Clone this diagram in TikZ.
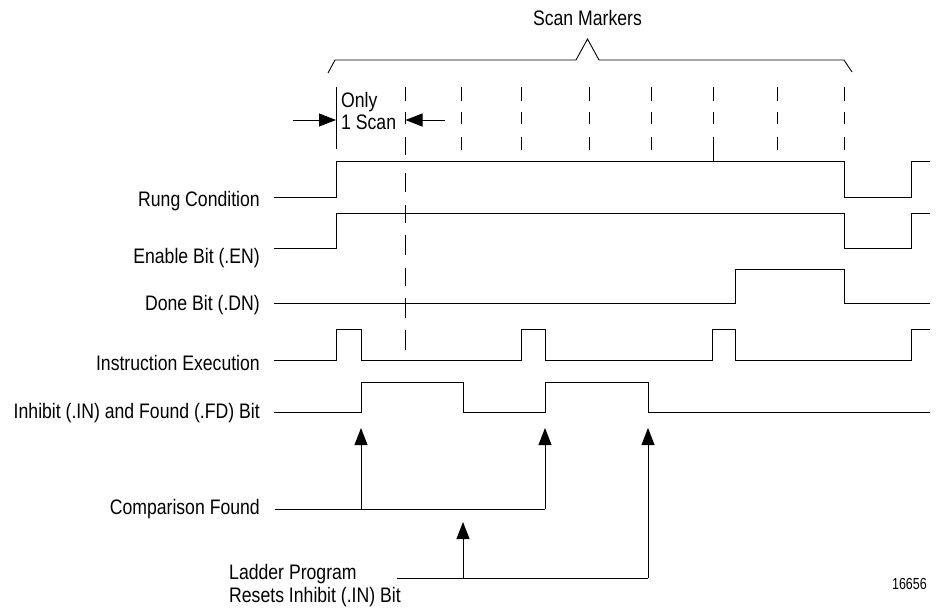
\documentclass[tikz,border=0pt]{standalone}
\usepackage{fontspec}
\setmainfont{Liberation Sans}[FakeStretch=0.84]
\newfontfamily\numfont{Liberation Sans}[FakeStretch=0.78]
\usetikzlibrary{arrows.meta}
\begin{document}
\begin{tikzpicture}[x=1pt,y=-1pt,
  sig/.style={line width=0.9pt,line join=miter},
  lbl/.style={font=\fontsize{21}{23}\selectfont, inner sep=0pt},
  arr/.style={line width=0.9pt,-{Triangle[length=17pt,width=13pt]}},
  mk/.style={line width=0.9pt}]
\useasboundingbox (0,0) rectangle (939,611);

% title and brace
\node[lbl,anchor=base] (title) at (587.5,25) {Scan Markers};
\draw[sig] (328,73) -- (335,60) -- (576,60) -- (587.5,39) -- (599,60) -- (844,60) -- (852,72);

% scan markers
\draw[mk] (336,87) -- (336,149);
\foreach \x in {405.5,461,521,589,651,713,777,844}{
  \draw[mk] (\x,87) -- (\x,101) (\x,112) -- (\x,124) (\x,137) -- (\x,150);
}
\draw[mk] (713,150) -- (713,161);
\draw[mk] (405.5,150) -- (405.5,155)
  (405.5,173) -- (405.5,192) (405.5,205) -- (405.5,223)
  (405.5,235) -- (405.5,255) (405.5,268) -- (405.5,286)
  (405.5,298) -- (405.5,318) (405.5,330) -- (405.5,350);

% only 1 scan
\node[lbl,anchor=base west] (only) at (341,107) {Only};
\node[lbl,anchor=base west] (onescan) at (341,129) {1 Scan};
\coordinate (la) at (293,120);
\coordinate (lt) at (336,120);
\coordinate (ra) at (445,120);
\coordinate (rt) at (405.5,120);
\draw[arr] (la) -- (lt);
\draw[arr] (ra) -- (rt);

% signal labels
\node[lbl,anchor=base east] (rung) at (260,206) {Rung Condition};
\node[lbl,anchor=base east] (en) at (260,263) {Enable Bit (.EN)};
\node[lbl,anchor=base east] (dn) at (260,310) {Done Bit (.DN)};
\node[lbl,anchor=base east] (ie) at (260,370) {Instruction Execution};
\node[lbl,anchor=base east] (inh) at (260,418) {Inhibit (.IN) and Found (.FD) Bit};

% waveforms
\draw[sig] (274,197) -- (336,197) -- (336,161) -- (844,161) -- (844,197) -- (911,197) -- (911,161) -- (930,161);
\draw[sig] (274,248) -- (336,248) -- (336,213) -- (844,213) -- (844,248) -- (911,248) -- (911,213) -- (930,213);
\draw[sig] (274,303.5) -- (735,303.5) -- (735,269) -- (844,269) -- (844,303.5) -- (930,303.5);
\draw[sig] (274,360) -- (336,360) -- (336,329) -- (361,329) -- (361,360) -- (521,360) -- (521,329) -- (545,329) -- (545,360)
  -- (712,360) -- (712,329) -- (735,329) -- (735,360) -- (911,360) -- (911,329) -- (930,329);
\draw[sig] (274,412.5) -- (361,412.5) -- (361,382) -- (463,382) -- (463,412.5) -- (545,412.5) -- (545,382) -- (648,382)
  -- (648,412.5) -- (930,412.5);

% comparison found
\node[lbl,anchor=base east] (cf) at (260,514) {Comparison Found};
\coordinate (cfs) at (275,509);
\coordinate (cf1) at (361,509);
\coordinate (cf2) at (545,509);
\coordinate (t1) at (361,428);
\coordinate (t2) at (545,428);
\draw[sig] (cfs) -- (cf2);
\draw[arr] (cf1) -- (t1);
\draw[arr] (cf2) -- (t2);

% ladder program
\node[lbl,anchor=base west] (lp1) at (229,579) {Ladder Program};
\node[lbl,anchor=base west] (lp2) at (229,602) {Resets Inhibit (.IN) Bit};
\coordinate (lps) at (397,578);
\coordinate (lp3) at (463,578);
\coordinate (lp4) at (648,578);
\coordinate (t3) at (463,522);
\coordinate (t4) at (648,428);
\draw[sig] (lps) -- (lp4);
\draw[arr] (lp3) -- (t3);
\draw[arr] (lp4) -- (t4);

\node[anchor=base east,inner sep=0pt,font=\numfont\fontsize{16}{18}\selectfont] (fig) at (927,589) {16656};
\end{tikzpicture}
\end{document}
